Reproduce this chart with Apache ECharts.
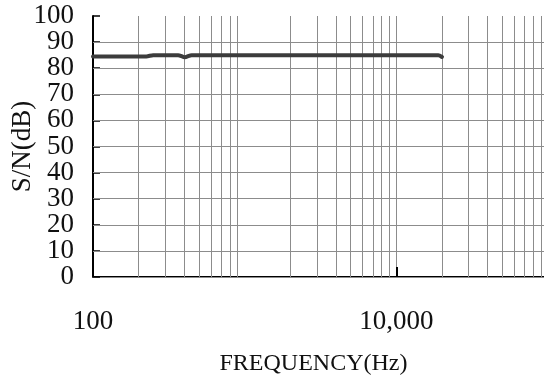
<!DOCTYPE html>
<html>
<head>
<meta charset="utf-8">
<script src="https://cdn.jsdelivr.net/npm/echarts@6/dist/echarts.min.js"></script>
<style>
  html, body { margin: 0; padding: 0; background: #fff; overflow: hidden; }
  #chart { width: 548px; height: 387px; }
</style>
</head>
<body>
<div id="chart"></div>
<script>
// Signal-to-noise ratio versus frequency
const freqHz = [100, 225, 249, 364, 403, 447, 18900, 20000];
const snrDb = [84.5, 84.5, 85, 85, 84.2, 85, 85, 84.3];

// Intermediate log grid lines (2..9 of each decade)
const minorFreqs = [200, 300, 400, 500, 600, 700, 800, 900,
                    2000, 3000, 4000, 5000, 6000, 7000, 8000, 9000,
                    20000, 30000, 40000, 50000, 60000, 70000, 80000, 90000];
// Frequencies that carry a label and a tick
const labeledFreqs = [100, 10000];
// S/N tick labels, split in two sets so the tightly stacked labels all stay visible
const yTicksEven = [0, 20, 40, 60, 80, 100];
const yTicksOdd = [10, 30, 50, 70, 90];
const yGridLines = [10, 20, 30, 40, 50, 60, 70, 80, 90];

const FONT = "'Liberation Serif', 'DejaVu Serif', serif";
const GRID_GRAY = '#8c8c8c';

const yLabelStyle = {
  show: true,
  margin: 19,
  hideOverlap: false,
  fontFamily: FONT, fontSize: 27, color: '#111'
};

const chart = echarts.init(document.getElementById('chart'), null, { renderer: 'canvas' });

chart.setOption({
  backgroundColor: '#ffffff',
  animation: false,
  grid: { left: 93, right: 0, top: 16, bottom: 110, containLabel: false, outerBoundsMode: 'none' },
  xAxis: [
    {
      type: 'log',
      logBase: 10,
      min: 100,
      max: 100000,
      name: 'FREQUENCY(Hz)',
      nameLocation: 'middle',
      nameGap: 75,
      nameMoveOverlap: false,
      nameTextStyle: { fontFamily: FONT, fontSize: 24, color: '#111', padding: [0, 14, 0, 0] },
      axisLine: { show: true, lineStyle: { color: '#000', width: 2 } },
      axisTick: { show: true, inside: true, length: 10, customValues: labeledFreqs, lineStyle: { color: '#000', width: 2 } },
      axisLabel: {
        show: true,
        customValues: labeledFreqs,
        margin: 31,
        hideOverlap: false,
        fontFamily: FONT, fontSize: 27, color: '#111',
        formatter: v => Number(v).toLocaleString('en-US')
      },
      splitLine: { show: true, lineStyle: { color: GRID_GRAY, width: 1 } },
      minorTick: { show: false },
      minorSplitLine: { show: false }
    },
    {
      // top frame edge of the plot (100 dB line)
      type: 'log',
      logBase: 10,
      position: 'top',
      min: 100,
      max: 100000,
      axisLine: { show: true, lineStyle: { color: GRID_GRAY, width: 1 } },
      axisTick: { show: false },
      axisLabel: { show: false },
      splitLine: { show: false }
    }
  ],
  yAxis: [
    {
      type: 'value',
      position: 'left',
      min: 0,
      max: 100,
      interval: 10,
      name: 'S/N(dB)',
      nameLocation: 'middle',
      nameGap: 57,
      nameMoveOverlap: false,
      nameRotate: 90,
      nameTextStyle: { fontFamily: FONT, fontSize: 27, color: '#111' },
      axisLine: { show: true, lineStyle: { color: '#000', width: 2 } },
      axisTick: { show: true, inside: true, length: 7, lineStyle: { color: '#000', width: 1.5 } },
      axisLabel: Object.assign({ customValues: yTicksEven }, yLabelStyle),
      splitLine: { show: false }
    },
    {
      type: 'value',
      position: 'left',
      offset: 0,
      min: 0,
      max: 100,
      interval: 10,
      axisLine: { show: false },
      axisTick: { show: false },
      axisLabel: Object.assign({ customValues: yTicksOdd }, yLabelStyle),
      splitLine: { show: false }
    }
  ],
  series: [
    {
      name: 'grid',
      type: 'line',
      data: [],
      z: 1,
      silent: true,
      markLine: {
        silent: true,
        symbol: ['none', 'none'],
        label: { show: false },
        lineStyle: { color: GRID_GRAY, width: 1, type: 'solid' },
        emphasis: { disabled: true },
        data: minorFreqs.map(f => ({ xAxis: f })).concat(yGridLines.map(v => ({ yAxis: v })))
      }
    },
    {
      name: 'S/N',
      type: 'line',
      z: 5,
      data: freqHz.map((f, i) => [f, snrDb[i]]),
      showSymbol: false,
      smooth: 0.25,
      lineStyle: { color: '#3c3c3c', width: 4, cap: 'round', join: 'round' }
    }
  ]
});
</script>
</body>
</html>
